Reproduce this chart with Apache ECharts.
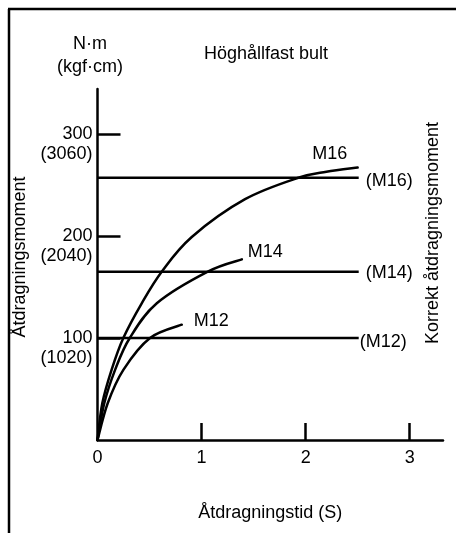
<!DOCTYPE html>
<html>
<head>
<meta charset="utf-8">
<script src="https://cdn.jsdelivr.net/npm/echarts@6/dist/echarts.min.js"></script>
<style>
html,body{margin:0;padding:0;background:#fff;}
#c{width:456px;height:533px;}
</style>
</head>
<body>
<div id="c"></div>
<script>
// ---- data ----
const xTickValues = [0, 1, 2, 3];
const yTickValues = [100, 200, 300];
const yTickKgf = ['(1020)', '(2040)', '(3060)'];
const curveNames = ['M12', 'M14', 'M16'];
const m12X = [0, 0.098, 0.25, 0.505, 0.81];
const m12Y = [0, 36, 69, 100, 113];
const m14X = [0, 0.065, 0.17, 0.31, 0.57, 1.06, 1.387];
const m14Y = [0, 36, 69, 100, 134, 165, 177];
const m16X = [0, 0.046, 0.136, 0.248, 0.425, 0.617, 0.906, 1.418, 1.93, 2.2, 2.5];
const m16Y = [0, 36, 69, 100, 134, 165, 199, 236, 257, 263, 267];
const refNames = ['(M12)', '(M14)', '(M16)'];
const refValues = [100, 165, 257];
const refStart = 0;
const refEnd = 2.51;
const titleText = 'Höghållfast bult';
const yUnit = 'N·m\n(kgf·cm)';
const xName = 'Åtdragningstid (S)';
const yName = 'Åtdragningsmoment';
const rightName = 'Korrekt åtdragningsmoment';

const FONT = 'Liberation Sans, Arial, sans-serif';
const INK = '#000';
const LW = 2.5;

function zip(xs, ys) { return xs.map((x, i) => [x, ys[i]]); }
const curveData = [zip(m12X, m12Y), zip(m14X, m14Y), zip(m16X, m16Y)];

// label placement relative to the curve's last point (pixels)
const curveLabelPos = [
  { dx: 12, dy: -4, align: 'left' },
  { dx: 6, dy: -7, align: 'left' },
  { dx: -28, dy: -14, align: 'center' }
];
const refLabelStyles = [
  { position: 'right', distance: 1, offset: [0, 4] },
  { position: 'right', distance: 7, offset: [0, 1] },
  { position: 'right', distance: 7, offset: [0, 3] }
];

// Catmull-Rom spline through the projected points, expressed as cubic Beziers
function splinePath(pts) {
  let d = 'M' + pts[0][0] + ' ' + pts[0][1];
  for (let i = 0; i < pts.length - 1; i++) {
    const p0 = pts[Math.max(0, i - 1)], p1 = pts[i], p2 = pts[i + 1], p3 = pts[Math.min(pts.length - 1, i + 2)];
    const c1x = p1[0] + (p2[0] - p0[0]) / 6, c1y = p1[1] + (p2[1] - p0[1]) / 6;
    const c2x = p2[0] - (p3[0] - p1[0]) / 6, c2y = p2[1] - (p3[1] - p1[1]) / 6;
    d += ' C' + c1x + ' ' + c1y + ' ' + c2x + ' ' + c2y + ' ' + p2[0] + ' ' + p2[1];
  }
  return d;
}

const series = [];
curveNames.forEach((n, i) => {
  series.push({
    type: 'custom', name: n,
    data: curveData[i],
    encode: { x: 0, y: 1 },
    z: 3,
    renderItem: function (params, api) {
      if (params.dataIndex !== 0) return null;
      const pts = curveData[i].map(p => api.coord(p));
      const last = pts[pts.length - 1];
      const lp = curveLabelPos[i];
      return {
        type: 'group',
        children: [
          { type: 'path', shape: { pathData: splinePath(pts) },
            style: { stroke: INK, lineWidth: LW, fill: null, lineCap: 'round' } },
          { type: 'text', x: last[0] + lp.dx, y: last[1] + lp.dy,
            style: { text: n, fontSize: 18, fontFamily: FONT, fill: INK, align: lp.align, verticalAlign: 'middle' } }
        ]
      };
    }
  });
});
refNames.forEach((n, i) => {
  const pts = [[refStart, refValues[i]], [refEnd, refValues[i]]];
  series.push({
    type: 'line', name: n,
    symbol: 'circle', symbolSize: 0.1, showSymbol: true,
    lineStyle: { color: INK, width: LW }, itemStyle: { color: INK },
    data: pts.map((p, k) => k === 0 ? { value: p } : {
      value: p,
      label: Object.assign({ show: true, formatter: n, color: INK, fontSize: 18, fontFamily: FONT }, refLabelStyles[i])
    }),
    z: 2
  });
});

const chart = echarts.init(document.getElementById('c'), null, { renderer: 'canvas' });
chart.setOption({
  animation: false,
  backgroundColor: '#fff',
  textStyle: { fontFamily: FONT, color: INK },
  title: {
    text: titleText, left: 266, top: 45, textAlign: 'center', padding: 0,
    textStyle: { fontSize: 18, fontWeight: 'normal', color: INK, fontFamily: FONT }
  },
  grid: { left: 97.5, right: 13, top: 89, bottom: 93 },
  xAxis: {
    type: 'value', min: 0, max: 3.32, interval: 1,
    name: xName, nameLocation: 'middle', nameGap: 64,
    nameTextStyle: { fontSize: 18, color: INK, fontFamily: FONT },
    axisLine: { lineStyle: { color: INK, width: LW } },
    axisTick: { show: true, inside: true, length: 17, customValues: xTickValues.filter(v => v > 0), lineStyle: { color: INK, width: LW } },
    axisLabel: { customValues: xTickValues, fontSize: 18, color: INK, margin: 9, fontFamily: FONT },
    splitLine: { show: false }
  },
  yAxis: {
    type: 'value', min: 0, max: 344, interval: 100,
    name: yUnit, nameLocation: 'end', nameGap: 10,
    nameTextStyle: { fontSize: 18, lineHeight: 23, color: INK, fontFamily: FONT, align: 'center', padding: [0, 15, 0, 0] },
    axisLine: { lineStyle: { color: INK, width: LW } },
    axisTick: { show: true, inside: true, length: 23, customValues: yTickValues, lineStyle: { color: INK, width: LW } },
    axisLabel: {
      customValues: yTickValues, fontSize: 18, lineHeight: 20, color: INK, margin: 5, fontFamily: FONT,
      formatter: v => { const i = yTickValues.indexOf(v); return '{sp| }\n' + v + '\n' + yTickKgf[i]; },
      rich: { sp: { fontSize: 18, lineHeight: 20 } }
    },
    splitLine: { show: false }
  },
  graphic: [
    { type: 'line', shape: { x1: 9, y1: 9, x2: 9, y2: 540 }, style: { stroke: INK, lineWidth: LW } },
    { type: 'line', shape: { x1: 8, y1: 9, x2: 460, y2: 9 }, style: { stroke: INK, lineWidth: LW } },
    { type: 'text', x: 20, y: 257, rotation: Math.PI / 2,
      style: { text: yName, fontSize: 18, fontFamily: FONT, fill: INK, align: 'center', verticalAlign: 'middle' } },
    { type: 'text', x: 433, y: 233, rotation: Math.PI / 2,
      style: { text: rightName, fontSize: 18, fontFamily: FONT, fill: INK, align: 'center', verticalAlign: 'middle' } }
  ],
  series: series
});
</script>
</body>
</html>
